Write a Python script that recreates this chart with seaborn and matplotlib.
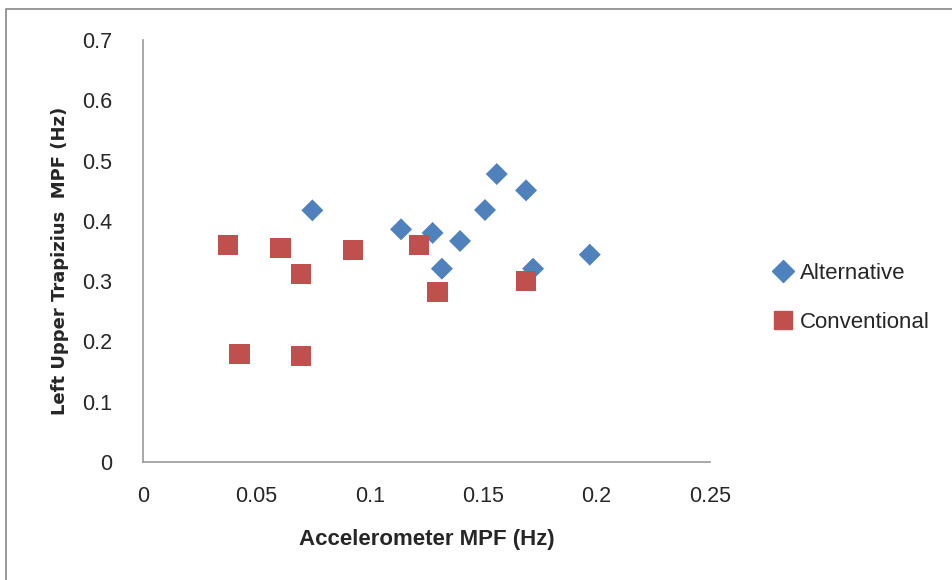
import matplotlib.pyplot as plt
import matplotlib.patches as mpatches
import pandas as pd
import seaborn as sns

# values
alt_x = [0.0747, 0.1138, 0.1277, 0.1398, 0.1318, 0.1508, 0.1560, 0.1689, 0.1720, 0.1970]
alt_y = [0.4175, 0.3860, 0.3800, 0.3666, 0.3207, 0.4180, 0.4777, 0.4506, 0.3207, 0.3440]
conv_x = [0.0376, 0.0607, 0.0927, 0.0697, 0.1218, 0.1298, 0.1690, 0.0426, 0.0697]
conv_y = [0.3605, 0.3555, 0.3516, 0.3118, 0.3600, 0.2820, 0.3000, 0.1790, 0.1758]

groups = ['Alternative', 'Conventional']
colors = {'Alternative': '#4F81BD', 'Conventional': '#C0504D'}

df = pd.DataFrame({
    'x': alt_x + conv_x,
    'y': alt_y + conv_y,
    'group': [groups[0]] * len(alt_x) + [groups[1]] * len(conv_x),
})

sns.set_style('white')
plt.rcParams['font.family'] = ['Liberation Sans', 'DejaVu Sans']

fig = plt.figure(figsize=(9.53, 5.8), dpi=100)
ax = fig.add_axes([0.150, 0.2034, 0.595, 0.7276])

sns.scatterplot(data=df, x='x', y='y', hue='group', style='group', size='group',
                palette=colors, markers={'Alternative': 'D', 'Conventional': 's'},
                sizes={'Alternative': 125, 'Conventional': 215},
                linewidth=0, ax=ax, legend=False)

ax.set_xlim(0, 0.25)
ax.set_ylim(0, 0.7)
ax.set_xticks([0, 0.05, 0.1, 0.15, 0.2, 0.25])
ax.set_xticklabels(['0', '0.05', '0.1', '0.15', '0.2', '0.25'])
ax.set_yticks([0, 0.1, 0.2, 0.3, 0.4, 0.5, 0.6, 0.7])
ax.set_yticklabels(['0', '0.1', '0.2', '0.3', '0.4', '0.5', '0.6', '0.7'])
ax.tick_params(axis='x', length=0, pad=17, labelsize=15.5)
ax.tick_params(axis='y', length=0, pad=22, labelsize=15.5)

for side in ['top', 'right']:
    ax.spines[side].set_visible(False)
for side in ['left', 'bottom']:
    ax.spines[side].set_color('#999999')
    ax.spines[side].set_linewidth(1.2)

ax.set_xlabel('Accelerometer MPF (Hz)', fontsize=16, fontweight='bold', labelpad=16)
ax.set_ylabel('Left Upper Trapizius  MPF (Hz)', fontsize=13, fontweight='bold',
              family='DejaVu Sans')
ax.yaxis.set_label_coords(-0.13, 0.476)

handles = [
    plt.Line2D([], [], marker='D', color=colors['Alternative'], linestyle='none', markersize=11),
    plt.Line2D([], [], marker='s', color=colors['Conventional'], linestyle='none', markersize=13),
]
fig.legend(handles, groups, loc='center left', bbox_to_anchor=(0.789, 0.486),
           frameon=False, fontsize=16, labelspacing=1.25, handletextpad=0.25,
           handlelength=1.0)

# outer chart frame like the spreadsheet export
fig.patches.append(mpatches.Rectangle((0.006, -0.1), 1.2, 1.0845, transform=fig.transFigure,
                                      fill=False, edgecolor='#888888', linewidth=1.2))

fig.savefig('out.png', dpi=100)
